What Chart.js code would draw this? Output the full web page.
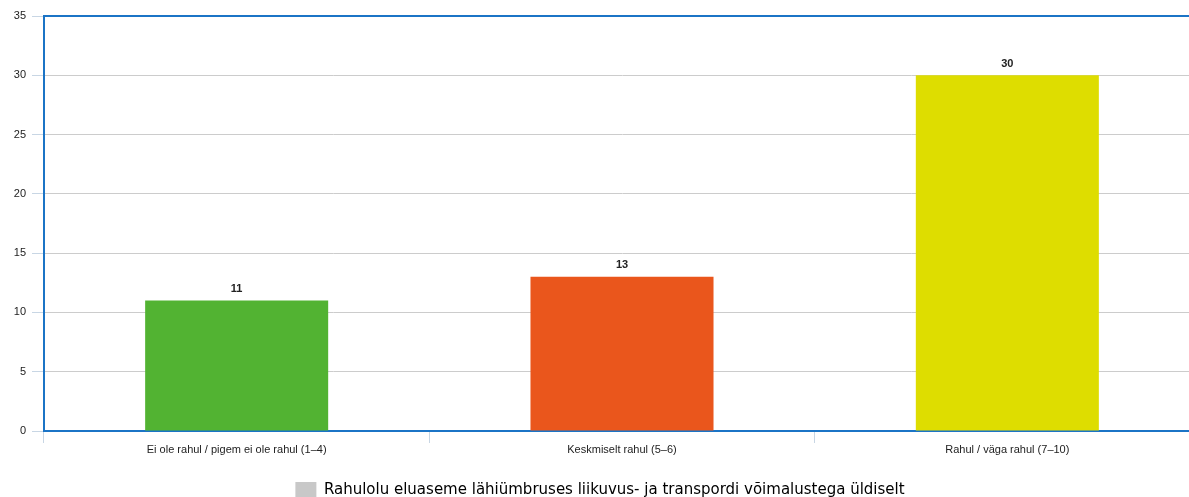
<!DOCTYPE html>
<html>
<head>
<meta charset="utf-8">
<script src="https://cdn.jsdelivr.net/npm/chart.js@4"></script>
<style>
  html, body { margin: 0; padding: 0; background: #fff; overflow: hidden; }
  #wrap { width: 1200px; height: 508px; }
</style>
</head>
<body>
<div id="wrap"><canvas id="chart"></canvas></div>
<script>
const categories = ['Ei ole rahul / pigem ei ole rahul (1–4)', 'Keskmiselt rahul (5–6)', 'Rahul / väga rahul (7–10)'];
const values = [11, 13, 30];
const barColors = ['#52b332', '#ea561c', '#dedd00'];
const seriesName = 'Rahulolu eluaseme lähiümbruses liikuvus- ja transpordi võimalustega üldiselt';
const yTicks = [0, 5, 10, 15, 20, 25, 30, 35];
const axisBlue = '#1b74c6';

// value labels above the bars + blue top border
const extras = {
    id: 'extras',
    afterDatasetsDraw(chart) {
        const ctx = chart.ctx;
        ctx.save();
        ctx.font = 'bold 11px "Liberation Sans", Arial, sans-serif';
        ctx.fillStyle = '#222';
        ctx.textAlign = 'center';
        ctx.textBaseline = 'bottom';
        chart.getDatasetMeta(0).data.forEach((bar, i) => {
            ctx.fillText(values[i], bar.x, bar.y - 6);
        });
        const a = chart.chartArea;
        ctx.strokeStyle = axisBlue;
        ctx.lineWidth = 2;
        ctx.beginPath();
        ctx.moveTo(a.left - 1, a.top);
        ctx.lineTo(a.right, a.top);
        ctx.stroke();
        ctx.restore();
    }
};

let ctx = document.getElementById('chart').getContext('2d');
let myChart = new Chart(ctx, {
    type: 'bar',
    data: {
        labels: categories,
        datasets: [{
            label: seriesName,
            data: values,
            backgroundColor: barColors,
            barPercentage: 0.475,
            categoryPercentage: 1
        }]
    },
    options: {
        responsive: true,
        maintainAspectRatio: false,
        animation: false,
        layout: { padding: { top: 16, left: 0, right: 0, bottom: 0 } },
        scales: {
            x: {
                grid: { drawOnChartArea: false, tickLength: 12, tickColor: '#c8d6e4' },
                border: { color: axisBlue, width: 2 },
                ticks: { color: '#222', font: { family: '"Liberation Sans", Arial, sans-serif', size: 11 }, padding: 0 },
                afterFit(scale) { scale.height = 45; }
            },
            y: {
                min: 0,
                max: 35,
                afterBuildTicks(scale) { scale.ticks = yTicks.map(v => ({ value: v })); },
                grid: { color: '#cccccc', tickLength: 12, tickColor: '#c8d6e4' },
                border: { color: axisBlue, width: 2 },
                ticks: { color: '#222', font: { family: '"Liberation Sans", Arial, sans-serif', size: 11 }, padding: 6 },
                afterFit(scale) { scale.width = 44; }
            }
        },
        plugins: {
            tooltip: { enabled: false },
            legend: {
                position: 'bottom',
                labels: {
                    boxWidth: 21,
                    boxHeight: 16,
                    color: '#333',
                    padding: 6,
                    font: { family: '"DejaVu Sans", Verdana, sans-serif', size: 15 },
                    generateLabels() {
                        return [{ text: seriesName, fillStyle: '#c8c8c8', strokeStyle: '#c8c8c8', lineWidth: 0, hidden: false, datasetIndex: 0 }];
                    }
                }
            }
        }
    },
    plugins: [extras]
});
</script>
</body>
</html>
